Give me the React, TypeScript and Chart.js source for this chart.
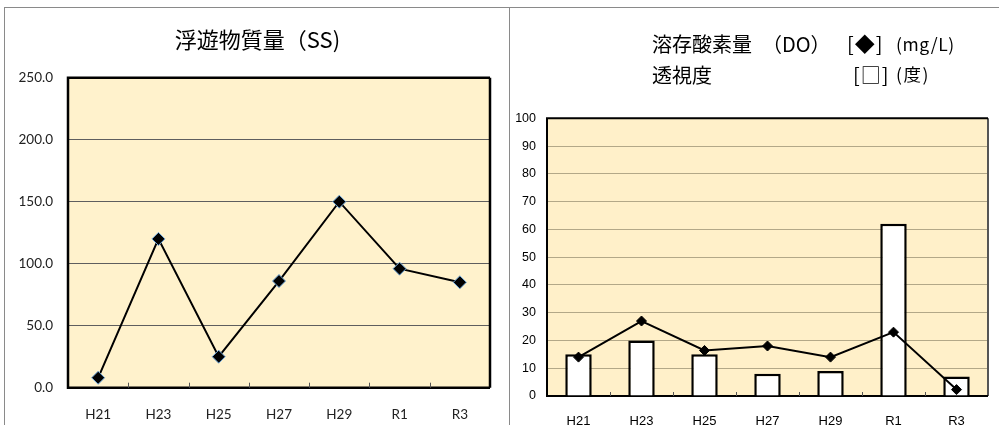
import React, { useEffect, useRef } from "react";
import { Chart, registerables } from "chart.js";
Chart.register(...registerables);

const categories = ["H21", "H23", "H25", "H27", "H29", "R1", "R3"];
const ssValues = [8, 120, 25, 86, 150, 96, 85];
const doValues = [14, 27, 16.4, 18, 14, 23, 2.3];
const transparencyValues = [15, 20, 15, 8, 9, 62, 7];
const ssMax = 250;
const ssStep = 50;
const doMax = 100;
const doStep = 10;

const JP = '"Noto Sans CJK JP", sans-serif';

function framePlugin(bg: string, border: string, bw: number, tickLen: number, rightBorder: string) {
  return {
    id: "plotFrame",
    beforeDraw(chart: any) {
      const { ctx, chartArea } = chart;
      const { left, top, right, bottom } = chartArea;
      ctx.save();
      ctx.fillStyle = bg;
      ctx.fillRect(left, top, right - left, bottom - top);
      ctx.restore();
    },
    beforeDatasetsDraw(chart: any) {
      const { ctx, chartArea, scales } = chart;
      const { left, top, right, bottom } = chartArea;
      ctx.save();
      ctx.lineWidth = bw;
      ctx.strokeStyle = rightBorder;
      ctx.beginPath();
      ctx.moveTo(right, top);
      ctx.lineTo(right, bottom);
      ctx.stroke();
      ctx.strokeStyle = border;
      ctx.beginPath();
      ctx.moveTo(right, top);
      ctx.lineTo(left, top);
      ctx.lineTo(left, bottom);
      ctx.lineTo(right, bottom);
      ctx.stroke();
      ctx.lineWidth = 1;
      ctx.strokeStyle = "#555";
      const xs = scales.x;
      for (let i = 1; i < categories.length; i++) {
        const x = Math.round((xs.getPixelForValue(i - 1) + xs.getPixelForValue(i)) / 2) + 0.5;
        ctx.beginPath();
        ctx.moveTo(x, bottom);
        ctx.lineTo(x, bottom - tickLen);
        ctx.stroke();
      }
      ctx.restore();
    },
  };
}

function SSChart() {
  const ref = useRef<HTMLCanvasElement | null>(null);
  useEffect(() => {
    if (!ref.current) return;
    const chart = new Chart(ref.current, {
      type: "line",
      data: {
        labels: categories,
        datasets: [
          {
            data: ssValues,
            borderColor: "#000",
            borderWidth: 2,
            pointStyle: "rectRot",
            pointRadius: 6.5,
            pointBackgroundColor: "#000",
            pointBorderColor: "#6fa8dc",
            pointBorderWidth: 1,
            tension: 0,
          },
        ],
      },
      options: {
        animation: false,
        responsive: false,
        layout: { padding: { left: 0, top: 69.7, right: 20, bottom: 0 } },
        plugins: { legend: { display: false }, tooltip: { enabled: false }, title: { display: false } },
        scales: {
          x: {
            offset: true,
            grid: { display: false },
            border: { display: false },
            ticks: { color: "#222", font: { family: "Lato", size: 13.5 }, padding: 11, maxRotation: 0 },
            afterFit: (s: any) => {
              s.height = 38.3;
            },
          },
          y: {
            min: 0,
            max: ssMax,
            grid: { color: "#5e5e5e", lineWidth: 1, drawTicks: false },
            border: { display: false },
            ticks: {
              stepSize: ssStep,
              color: "#222",
              font: { family: "Lato", size: 13.5 },
              padding: 15,
              callback: (v: any) => Number(v).toFixed(1),
            },
            afterFit: (s: any) => {
              s.width = 63;
            },
          },
        },
      },
      plugins: [framePlugin("#fff2cc", "#000", 2.5, 5, "#000")],
    });
    return () => chart.destroy();
  }, []);
  return <canvas ref={ref} width={505} height={418} style={{ position: "absolute", left: 0, top: 0, width: 505, height: 418 }} />;
}

function DOChart() {
  const ref = useRef<HTMLCanvasElement | null>(null);
  useEffect(() => {
    if (!ref.current) return;
    const chart = new Chart(ref.current, {
      type: "bar",
      data: {
        labels: categories,
        datasets: [
          {
            type: "line",
            data: doValues,
            borderColor: "#000",
            borderWidth: 2,
            pointStyle: "rectRot",
            pointRadius: 5,
            pointBackgroundColor: "#000",
            pointBorderColor: "#000",
            pointBorderWidth: 1,
            tension: 0,
            order: 0,
          },
          {
            type: "bar",
            data: transparencyValues,
            backgroundColor: "#fff",
            borderColor: "#000",
            borderWidth: 2.5,
            categoryPercentage: 1,
            barPercentage: 0.42,
            order: 1,
          },
        ],
      },
      options: {
        animation: false,
        responsive: false,
        layout: { padding: { left: 0, top: 110.3, right: 12, bottom: 0 } },
        plugins: { legend: { display: false }, tooltip: { enabled: false }, title: { display: false } },
        scales: {
          x: {
            offset: true,
            grid: { display: false },
            border: { display: false },
            ticks: { color: "#000", font: { family: "Liberation Sans", size: 13 }, padding: 10, maxRotation: 0 },
            afterFit: (s: any) => {
              s.height = 30;
            },
          },
          y: {
            min: 0,
            max: doMax,
            grid: { color: "#b3a888", lineWidth: 1, drawTicks: false },
            border: { display: false },
            ticks: {
              stepSize: doStep,
              color: "#000",
              font: { family: "Liberation Sans", size: 12.5 },
              padding: 11,
            },
            afterFit: (s: any) => {
              s.width = 37;
            },
          },
        },
      },
      plugins: [framePlugin("#fff0c9", "#000", 2, 4, "#555")],
    });
    return () => chart.destroy();
  }, []);
  return <canvas ref={ref} width={490} height={418} style={{ position: "absolute", left: 0, top: 0, width: 490, height: 418 }} />;
}

const abs = (left: number, top: number, size: number, extra: any = {}) => ({
  position: "absolute" as const,
  left,
  top,
  fontSize: size,
  lineHeight: "1",
  whiteSpace: "nowrap" as const,
  fontFamily: JP,
  color: "#000",
  ...extra,
});

export default function App() {
  return (
    <div style={{ position: "fixed", left: 0, top: 0, width: 999, height: 425, background: "#fff", overflow: "hidden" }}>
      <div style={{ position: "absolute", left: 4, top: 7, width: 505, height: 430, borderLeft: "1px solid #8a8a8a", borderTop: "1px solid #8a8a8a", boxSizing: "border-box" }}>
        <SSChart />
        <div style={abs(0, 19, 22, { width: 505, textAlign: "center" })}>浮遊物質量（SS)</div>
      </div>
      <div style={{ position: "absolute", left: 509, top: 7, width: 500, height: 430, borderLeft: "1px solid #8a8a8a", borderTop: "1px solid #8a8a8a", boxSizing: "border-box" }}>
        <DOChart />
        <div style={abs(142, 26, 20)}>溶存酸素量</div>
        <div style={abs(252, 26, 20)}>（DO）</div>
        <div style={abs(337, 26, 20, { letterSpacing: 1 })}>[◆]</div>
        <div style={abs(386, 27, 17.5, { letterSpacing: 0.6 })}>(mg/L)</div>
        <div style={abs(142, 57, 20)}>透視度</div>
        <div style={abs(343, 57, 20, { letterSpacing: 1 })}>[□]</div>
        <div style={abs(386, 57, 17.5, { letterSpacing: 1.5 })}>(度)</div>
      </div>
    </div>
  );
}
